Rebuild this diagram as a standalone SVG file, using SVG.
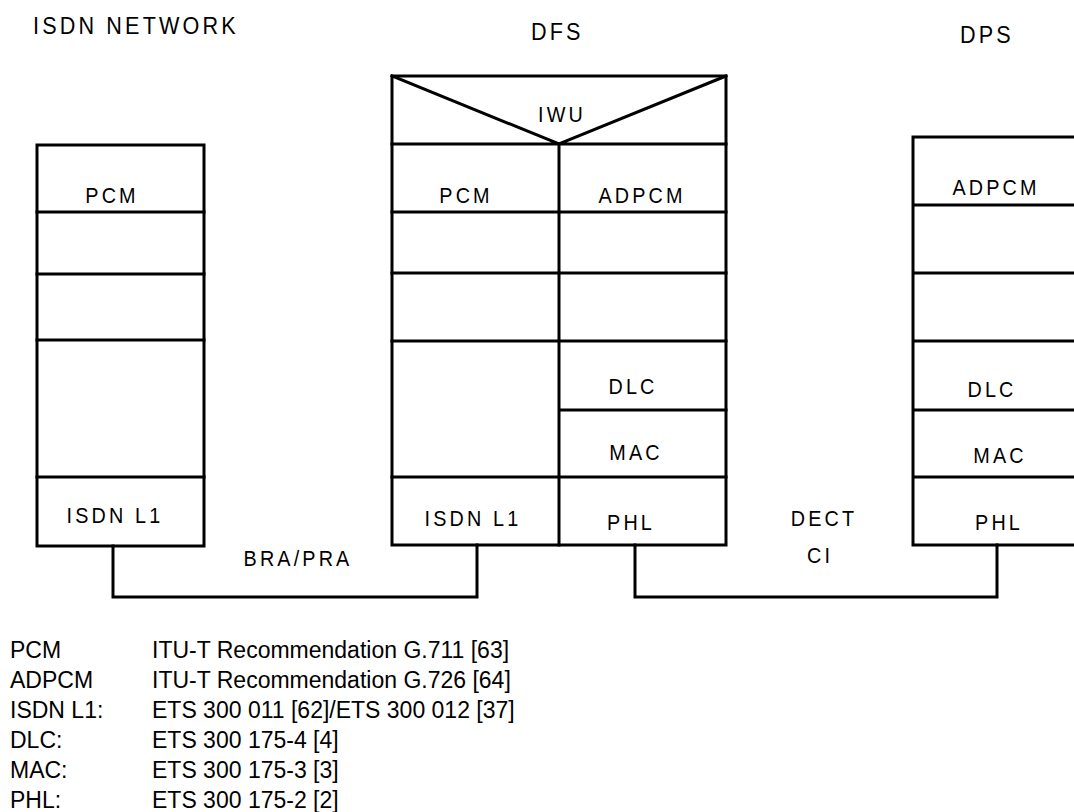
<svg xmlns="http://www.w3.org/2000/svg" width="1074" height="812" viewBox="0 0 1074 812">
<style>
.ln{fill:none;stroke:#000;stroke-width:3;stroke-linecap:square;stroke-linejoin:miter}
.lb{font-family:"Liberation Sans",Arial,sans-serif;font-size:22px;letter-spacing:3.5px;fill:#000;text-anchor:middle}
.hd{font-family:"Liberation Sans",Arial,sans-serif;font-size:24px;letter-spacing:3.5px;fill:#000}
.lg{font-family:"Liberation Sans",Arial,sans-serif;font-size:23px;fill:#000}
</style>
<rect width="1074" height="812" fill="#fff"/>
<g id="headers">
<text class="hd" transform="translate(33,34) scale(0.9,1)">ISDN NETWORK</text>
<text class="hd" transform="translate(531,40) scale(0.9,1)">DFS</text>
<text class="hd" transform="translate(960,43) scale(0.9,1)">DPS</text>
</g>
<g id="isdn-network">
<rect class="ln" x="37" y="145" width="167" height="401"/>
<path class="ln" d="M37,212H204M37,274H204M37,340H204M37,477H204"/>
<text class="lb" transform="translate(112,203) scale(0.9,1)">PCM</text>
<text class="lb" transform="translate(115,523) scale(0.9,1)">ISDN L1</text>
</g>
<g id="dfs">
<rect class="ln" x="392" y="76" width="334" height="469"/>
<path class="ln" d="M392,76L559,144L726,76M392,144H726M559,144V545M392,212H726M392,273H726M392,341H726M559,410H726M392,477H726"/>
<text class="lb" transform="translate(562,122) scale(0.9,1)">IWU</text>
<text class="lb" transform="translate(466,203) scale(0.9,1)">PCM</text>
<text class="lb" transform="translate(642,203) scale(0.9,1)">ADPCM</text>
<text class="lb" transform="translate(633,394) scale(0.9,1)">DLC</text>
<text class="lb" transform="translate(636,460) scale(0.9,1)">MAC</text>
<text class="lb" transform="translate(473,526) scale(0.9,1)">ISDN L1</text>
<text class="lb" transform="translate(631,530) scale(0.9,1)">PHL</text>
</g>
<g id="dps">
<path class="ln" d="M1080,137H913V545H1080M913,205H1080M913,273H1080M913,341H1080M913,410H1080M913,477H1080"/>
<text class="lb" transform="translate(996,195) scale(0.9,1)">ADPCM</text>
<text class="lb" transform="translate(992,397) scale(0.9,1)">DLC</text>
<text class="lb" transform="translate(1000,463) scale(0.9,1)">MAC</text>
<text class="lb" transform="translate(999,530) scale(0.9,1)">PHL</text>
</g>
<g id="connectors">
<path class="ln" d="M113,546V597H477V545"/>
<path class="ln" d="M635,545V597H997V545"/>
<text class="lb" transform="translate(298,566) scale(0.9,1)">BRA/PRA</text>
<text class="lb" transform="translate(824,526) scale(0.9,1)">DECT</text>
<text class="lb" transform="translate(820,563) scale(0.9,1)">CI</text>
</g>
<g id="legend">
<text class="lg" x="10" y="658">PCM</text><text class="lg" x="152" y="658">ITU-T Recommendation G.711 [63]</text>
<text class="lg" x="10" y="688">ADPCM</text><text class="lg" x="152" y="688">ITU-T Recommendation G.726 [64]</text>
<text class="lg" x="10" y="718">ISDN L1:</text><text class="lg" x="152" y="718">ETS 300 011 [62]/ETS 300 012 [37]</text>
<text class="lg" x="10" y="748">DLC:</text><text class="lg" x="152" y="748">ETS 300 175-4 [4]</text>
<text class="lg" x="10" y="778">MAC:</text><text class="lg" x="152" y="778">ETS 300 175-3 [3]</text>
<text class="lg" x="10" y="808">PHL:</text><text class="lg" x="152" y="808">ETS 300 175-2 [2]</text>
</g>
</svg>
